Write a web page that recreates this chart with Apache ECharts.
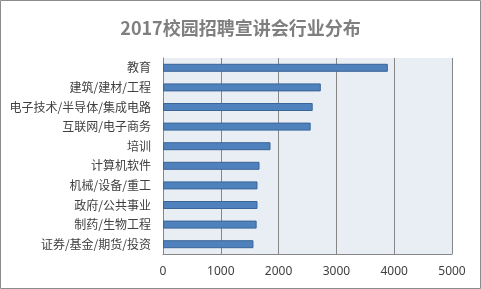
<!DOCTYPE html>
<html>
<head>
<meta charset="utf-8">
<script src="https://cdn.jsdelivr.net/npm/echarts@6/dist/echarts.min.js"></script>
<style>
  html, body { margin: 0; padding: 0; background: #fff; }
  #chart { width: 481px; height: 289px; }
</style>
</head>
<body>
<div id="chart"></div>
<script>
// industries, top to bottom
const industries = [
  '教育', '建筑/建材/工程', '电子技术/半导体/集成电路', '互联网/电子商务', '培训',
  '计算机软件', '机械/设备/重工', '政府/公共事业', '制药/生物工程', '证券/基金/期货/投资'
];
const counts = [3890, 2730, 2590, 2555, 1860, 1670, 1635, 1635, 1620, 1565];

const chart = echarts.init(document.getElementById('chart'));

chart.setOption({
  animation: false,
  backgroundColor: '#fff',
  title: {
    text: '2017校园招聘宣讲会行业分布',
    left: 'center',
    top: 14,
    textStyle: {
      fontFamily: 'Noto Sans CJK SC',
      fontSize: 18,
      fontWeight: 'bold',
      color: '#7f7f7f'
    }
  },
  graphic: [{
    type: 'rect',
    shape: { x: 0.5, y: 0.5, width: 480, height: 288 },
    style: { fill: 'none', stroke: '#8c8c8c', lineWidth: 1 },
    silent: true
  }],
  grid: {
    left: 163, right: 29, top: 58, bottom: 35,
    show: true,
    backgroundColor: '#e9edf4',
    borderWidth: 0
  },
  xAxis: {
    type: 'value',
    min: 0, max: 5000, interval: 1000,
    axisLine: { show: true, lineStyle: { color: '#868686' } },
    axisTick: { show: false },
    axisLabel: {
      color: '#404040', fontSize: 12, margin: 12, fontFamily: 'Noto Sans',
      formatter: v => String(v)
    },
    splitLine: { show: true, lineStyle: { color: '#868686', width: 1 } }
  },
  yAxis: {
    type: 'category',
    inverse: true,
    data: industries,
    axisLine: { show: true, lineStyle: { color: '#868686' } },
    axisTick: { show: false },
    axisLabel: { color: '#404040', fontSize: 12, margin: 12, fontFamily: 'Noto Sans CJK SC' }
  },
  series: [{
    type: 'bar',
    data: counts,
    barWidth: 8,
    itemStyle: { color: '#4f81bd', borderColor: '#3a6597', borderWidth: 1 }
  }]
});
</script>
</body>
</html>
